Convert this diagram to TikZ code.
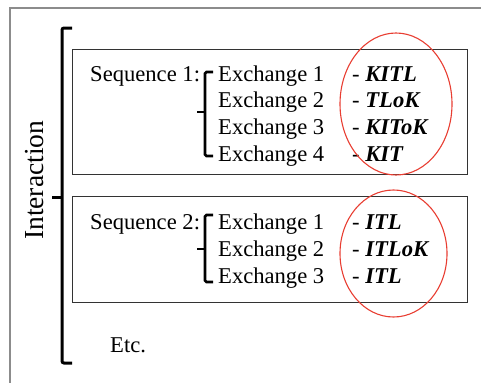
\documentclass[tikz,border=0pt]{standalone}
\usepackage{fontspec}
\setmainfont{Liberation Serif}
\definecolor{markred}{RGB}{232,62,50}
\tikzset{
  txt/.style={inner sep=0pt, anchor=base west, font=\fontsize{22.6}{27}\selectfont},
  seqbox/.style={draw=black!80, line width=1.3pt},
  brk/.style={draw=black, line width=2.8pt, rounded corners=1.5pt},
  bigbrk/.style={draw=black, line width=3pt, rounded corners=2pt},
  redmark/.style={draw=markred, line width=1.1pt},
}
\newcommand{\lbl}[1]{- \textbf{\textit{#1}}}
\begin{document}
\begin{tikzpicture}[x=1pt,y=-1pt]
\useasboundingbox (0,0) rectangle (481,383);
% outer frame (only top and left visible)
\coordinate (fr1) at (10,8);
\coordinate (fr2) at (481,8);
\coordinate (fr3) at (10,383);
\draw[draw=black!45, line width=1.6pt] (fr2) -- (fr1) -- (fr3);

% Interaction label
\node[txt, rotate=90, font=\fontsize{27.5}{30}\selectfont] (inter) at (43,240) {Interaction};

% big bracket
\draw[bigbrk] (72,28) -- (62,28) -- (62,363) -- (72,363);
\draw[draw=black, line width=3pt] (52,197) -- (62,197);

% sequence boxes
\node[seqbox, minimum width=395pt, minimum height=125pt, anchor=north west, inner sep=0pt] (box1) at (72,49) {};
\node[seqbox, minimum width=395pt, minimum height=106pt, anchor=north west, inner sep=0pt] (box2) at (72,196) {};

% sequence 1
\node[txt] (s1) at (90,81) {Sequence 1:};
\draw[brk] (213,72) -- (205,72) -- (205,156) -- (213,156);
\draw[draw=black, line width=2.8pt] (197,112) -- (205,112);
\node[txt] (s1e1) at (218,81) {Exchange 1};
\node[txt] (s1e2) at (218,107.7) {Exchange 2};
\node[txt] (s1e3) at (218,134.3) {Exchange 3};
\node[txt] (s1e4) at (218,161) {Exchange 4};
\node[txt] (s1l1) at (352,81) {\lbl{KITL}};
\node[txt] (s1l2) at (352,107.7) {\lbl{TLoK}};
\node[txt] (s1l3) at (352,134.3) {\lbl{KIToK}};
\node[txt] (s1l4) at (352,161) {\lbl{KIT}};

% sequence 2
\node[txt] (s2) at (90,229) {Sequence 2:};
\draw[brk] (213,215) -- (205,215) -- (205,282) -- (213,282);
\draw[draw=black, line width=2.8pt] (197,249) -- (205,249);
\node[txt] (s2e1) at (218,229) {Exchange 1};
\node[txt] (s2e2) at (218,256) {Exchange 2};
\node[txt] (s2e3) at (218,283) {Exchange 3};
\node[txt] (s2l1) at (352,229) {\lbl{ITL}};
\node[txt] (s2l2) at (352,256) {\lbl{ITLoK}};
\node[txt] (s2l3) at (352,283) {\lbl{ITL}};

% etc
\node[txt] (etc) at (110,352) {Etc.};

% red ellipses
\draw[redmark] (396,104) ellipse [x radius=56, y radius=71];
\draw[redmark] (393.5,253.5) ellipse [x radius=53.5, y radius=63.5];
\end{tikzpicture}
\end{document}
